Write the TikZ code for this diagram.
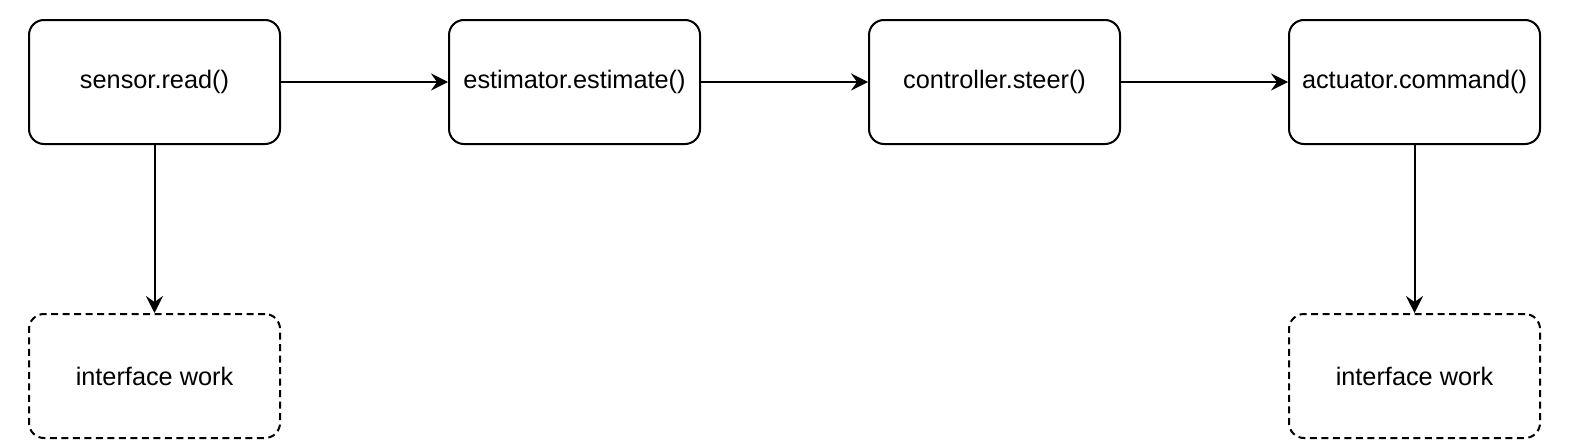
\documentclass[tikz,border=0pt]{standalone}
\usepackage{fontspec}
\setmainfont{Liberation Sans}
\usetikzlibrary{arrows.meta}
\begin{document}
\begin{tikzpicture}[x=1pt,y=-1pt,
  box/.style={draw, line width=2pt, rounded corners=15pt, minimum width=251pt, minimum height=124pt, inner sep=0pt, font=\fontsize{25.3}{30}\selectfont},
  dbox/.style={box, dash pattern=on 7pt off 4.5pt},
  conn/.style={line width=2pt, -{Stealth[length=17pt, width=17pt, inset=6pt]}}]
\useasboundingbox[fill=white] (0,0) rectangle (1575,447);
\node[box] (s) at (154.5,82) {sensor.read()};
\node[box] (e) at (574.5,82) {estimator.estimate()};
\node[box] (c) at (994.5,82) {controller.steer()};
\node[box] (a) at (1414.5,82) {actuator.command()};
\node[dbox] (i1) at (154.5,376) {interface work};
\node[dbox] (i2) at (1414.5,376) {interface work};
\draw[conn] (s) -- (e);
\draw[conn] (e) -- (c);
\draw[conn] (c) -- (a);
\draw[conn] (s) -- (i1);
\draw[conn] (a) -- (i2);
\end{tikzpicture}
\end{document}
